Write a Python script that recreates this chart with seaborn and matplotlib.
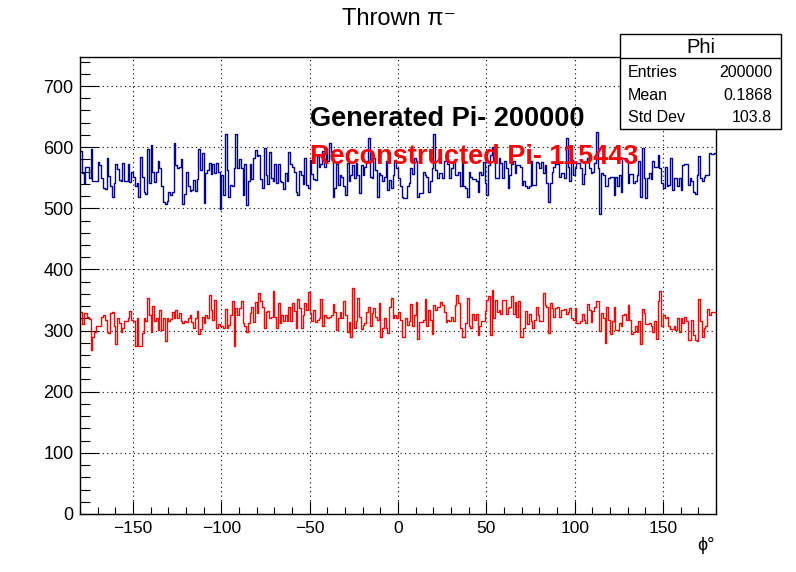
import numpy as np
import pandas as pd
import matplotlib
matplotlib.use("Agg")
import matplotlib.pyplot as plt
from matplotlib.patches import Rectangle
from matplotlib.ticker import MultipleLocator
import seaborn as sns

# ---------------- data (1-degree bins from -180 to 180) -------------
phi_min, phi_max, n_bins = -180, 180, 360

generated = [
    593, 558, 542, 568, 567, 549, 597, 545, 545, 545,
    575, 571, 550, 534, 531, 582, 553, 537, 518, 541,
    572, 564, 547, 545, 574, 544, 544, 572, 543, 560,
    552, 536, 541, 519, 584, 552, 527, 523, 597, 541,
    603, 559, 543, 559, 578, 566, 536, 510, 507, 512,
    527, 522, 527, 607, 571, 566, 568, 580, 507, 523,
    559, 536, 529, 530, 547, 529, 548, 597, 563, 590,
    508, 557, 563, 574, 556, 572, 557, 574, 559, 499,
    555, 521, 621, 563, 519, 538, 536, 566, 621, 566,
    # 90..179
    580, 566, 522, 572, 506, 544, 572, 548, 582, 596,
    585, 587, 548, 533, 598, 555, 539, 592, 549, 544,
    572, 541, 572, 545, 543, 531, 557, 545, 592, 572,
    568, 560, 527, 522, 561, 554, 539, 583, 538, 533,
    579, 556, 548, 547, 585, 568, 572, 593, 568, 598,
    577, 607, 582, 519, 534, 572, 538, 555, 552, 537,
    522, 574, 544, 555, 571, 549, 574, 555, 525, 571,
    555, 568, 578, 615, 552, 550, 582, 563, 519, 557,
    555, 544, 552, 577, 530, 547, 533, 555, 578, 566,
    # 180..269
    549, 536, 519, 517, 517, 536, 541, 566, 556, 582,
    578, 519, 525, 525, 560, 554, 552, 527, 544, 566,
    621, 563, 550, 557, 557, 550, 577, 585, 572, 550,
    566, 577, 555, 555, 560, 536, 575, 536, 533, 519,
    560, 552, 548, 548, 545, 527, 559, 555, 575, 541,
    521, 571, 587, 601, 578, 549, 549, 582, 574, 549,
    578, 566, 534, 555, 572, 578, 557, 571, 571, 568,
    538, 544, 536, 533, 537, 577, 538, 538, 575, 574,
    566, 575, 557, 571, 541, 511, 541, 560, 568, 572,
    # 270..359
    572, 552, 557, 557, 550, 615, 568, 545, 579, 555,
    566, 574, 574, 566, 539, 556, 578, 582, 566, 557,
    559, 574, 625, 566, 490, 557, 555, 536, 536, 549,
    552, 552, 522, 552, 536, 555, 527, 583, 582, 579,
    541, 556, 556, 541, 545, 555, 577, 519, 598, 550,
    517, 549, 557, 548, 578, 567, 567, 587, 566, 541,
    533, 567, 537, 538, 582, 530, 549, 550, 536, 549,
    530, 571, 572, 572, 538, 549, 545, 527, 523, 555,
    585, 549, 544, 552, 555, 555, 590, 589, 589, 590,
]

reconstructed = [
    330, 311, 328, 328, 323, 319, 268, 290, 298, 308,
    308, 308, 323, 326, 317, 298, 296, 328, 330, 307,
    278, 321, 312, 298, 304, 315, 316, 320, 332, 317,
    315, 274, 320, 274, 274, 296, 320, 315, 354, 326,
    298, 341, 316, 320, 301, 334, 301, 320, 283, 320,
    315, 319, 331, 320, 334, 320, 328, 316, 312, 315,
    314, 320, 325, 314, 304, 320, 332, 294, 303, 323,
    312, 326, 320, 358, 334, 317, 350, 304, 310, 308,
    307, 305, 335, 304, 309, 326, 349, 274, 337, 325,
    # 90..179
    337, 349, 312, 307, 298, 312, 328, 339, 314, 347,
    328, 361, 349, 339, 304, 331, 332, 321, 323, 365,
    323, 304, 345, 312, 326, 316, 326, 315, 338, 315,
    345, 332, 304, 352, 337, 304, 326, 345, 334, 363,
    328, 315, 334, 314, 317, 320, 352, 307, 325, 323,
    320, 323, 325, 343, 331, 301, 320, 331, 320, 349,
    326, 298, 314, 290, 369, 304, 315, 353, 323, 303,
    309, 312, 330, 339, 307, 328, 337, 323, 317, 345,
    290, 304, 320, 304, 296, 339, 354, 320, 325, 320,
    # 180..269
    330, 317, 289, 289, 320, 309, 316, 343, 307, 326,
    347, 287, 314, 314, 317, 352, 307, 334, 317, 294,
    342, 334, 338, 338, 346, 342, 331, 314, 317, 316,
    323, 316, 342, 358, 345, 304, 289, 289, 312, 353,
    307, 304, 327, 317, 327, 292, 307, 315, 315, 332,
    350, 356, 292, 366, 320, 350, 331, 334, 327, 350,
    350, 327, 337, 338, 356, 327, 347, 323, 349, 290,
    290, 304, 332, 310, 327, 316, 304, 317, 339, 326,
    316, 316, 361, 342, 339, 296, 345, 337, 323, 337,
    # 270..359
    338, 323, 334, 334, 335, 327, 330, 337, 320, 317,
    337, 312, 312, 315, 327, 317, 312, 343, 334, 314,
    332, 339, 349, 349, 299, 328, 320, 279, 338, 317,
    294, 315, 338, 301, 301, 312, 307, 326, 327, 317,
    342, 317, 294, 298, 308, 298, 316, 278, 335, 328,
    310, 310, 312, 307, 298, 315, 286, 349, 365, 307,
    325, 320, 323, 307, 303, 303, 307, 301, 320, 298,
    320, 312, 323, 315, 285, 285, 317, 292, 285, 283,
    352, 315, 289, 304, 307, 335, 326, 331, 331, 330,
]

title = "Thrown \u03c0\u207b"
x_label = "\u03d5\u00b0"
gen_label = "Generated Pi- 200000"
rec_label = "Reconstructed Pi- 115443"
stats_title = "Phi"
stats_rows = [("Entries", "200000"), ("Mean", "0.1868"), ("Std Dev", "103.8")]

# ---------------- figure ----------------
sns.set_style("white")
plt.rcParams["font.family"] = ["Liberation Sans", "DejaVu Sans"]
plt.rcParams["text.color"] = "black"
plt.rcParams["axes.labelcolor"] = "black"
plt.rcParams["xtick.color"] = "black"
plt.rcParams["ytick.color"] = "black"

W, H = 796, 572
fig = plt.figure(figsize=(W / 100, H / 100), dpi=100)
ax = fig.add_axes([80 / W, (H - 514) / H, 636 / W, (514 - 57.3) / H])

edges = np.linspace(phi_min, phi_max, n_bins + 1)
centers = 0.5 * (edges[:-1] + edges[1:])
gen_df = pd.DataFrame({"phi": centers, "count": np.asarray(generated, dtype=float)})
rec_df = pd.DataFrame({"phi": centers, "count": np.asarray(reconstructed, dtype=float)})

sns.histplot(data=gen_df, x="phi", weights="count", bins=n_bins,
             binrange=(phi_min, phi_max), element="step", fill=False,
             color="#000099", linewidth=1.0, ax=ax)
sns.histplot(data=rec_df, x="phi", weights="count", bins=n_bins,
             binrange=(phi_min, phi_max), element="step", fill=False,
             color="#ff0000", linewidth=1.0, ax=ax)

ax.set_xlim(phi_min, phi_max)
ax.set_ylim(0, 747)
ax.set_xlabel("")
ax.set_ylabel("")

ax.xaxis.set_major_locator(MultipleLocator(50))
ax.xaxis.set_minor_locator(MultipleLocator(10))
ax.yaxis.set_major_locator(MultipleLocator(100))
ax.yaxis.set_minor_locator(MultipleLocator(20))
ax.tick_params(axis="both", which="both", direction="in", colors="black",
               bottom=True, left=True, top=False, right=False)
ax.tick_params(axis="x", which="major", length=9.5, width=0.8, pad=5, labelsize=12.5)
ax.tick_params(axis="x", which="minor", length=5, width=0.8)
ax.tick_params(axis="y", which="major", length=14, width=0.8, pad=4.5, labelsize=13)
ax.tick_params(axis="y", which="minor", length=7, width=0.8)
ax.grid(True, which="major", color="black", linestyle=(0, (1, 3)), linewidth=0.8)
ax.set_axisbelow(True)
for s in ax.spines.values():
    s.set_color("black")
    s.set_linewidth(1.0)

# texts in data coords
ax.text(-50, 635, gen_label, color="black", fontsize=19.5, fontweight="bold",
        ha="left", va="baseline", zorder=5)
ax.text(-50, 572.5, rec_label, color="#ff0000", fontsize=19.5, fontweight="bold",
        ha="left", va="baseline", zorder=5)

# title and x label (figure pixel coordinates)
fig.text(399 / W, 1 - 19 / H, title, ha="center", va="center", fontsize=17)
fig.text(715 / W, 1 - 545 / H, x_label, ha="right", va="center", fontsize=13)

# stats box
bx0, bx1, by0, by1, hline = 620, 781, 34, 128.5, 57.7
fig.add_artist(Rectangle((bx0 / W, 1 - by1 / H), (bx1 - bx0) / W, (by1 - by0) / H,
                         transform=fig.transFigure, facecolor="white",
                         edgecolor="black", linewidth=1.0, zorder=10))
fig.add_artist(plt.Line2D([bx0 / W, bx1 / W], [1 - hline / H, 1 - hline / H],
                          transform=fig.transFigure, color="black", linewidth=1.0, zorder=11))
fig.text((bx0 + bx1) / 2 / W, 1 - 47.5 / H, stats_title, ha="center", va="center",
         fontsize=14.5, zorder=12)
for (lab, val), yy in zip(stats_rows, [72.5, 95, 118]):
    fig.text(628 / W, 1 - yy / H, lab, ha="left", va="center", fontsize=11.5, zorder=12)
    fig.text(772 / W, 1 - yy / H, val, ha="right", va="center", fontsize=11.5, zorder=12)

fig.savefig("out.png", dpi=100)
